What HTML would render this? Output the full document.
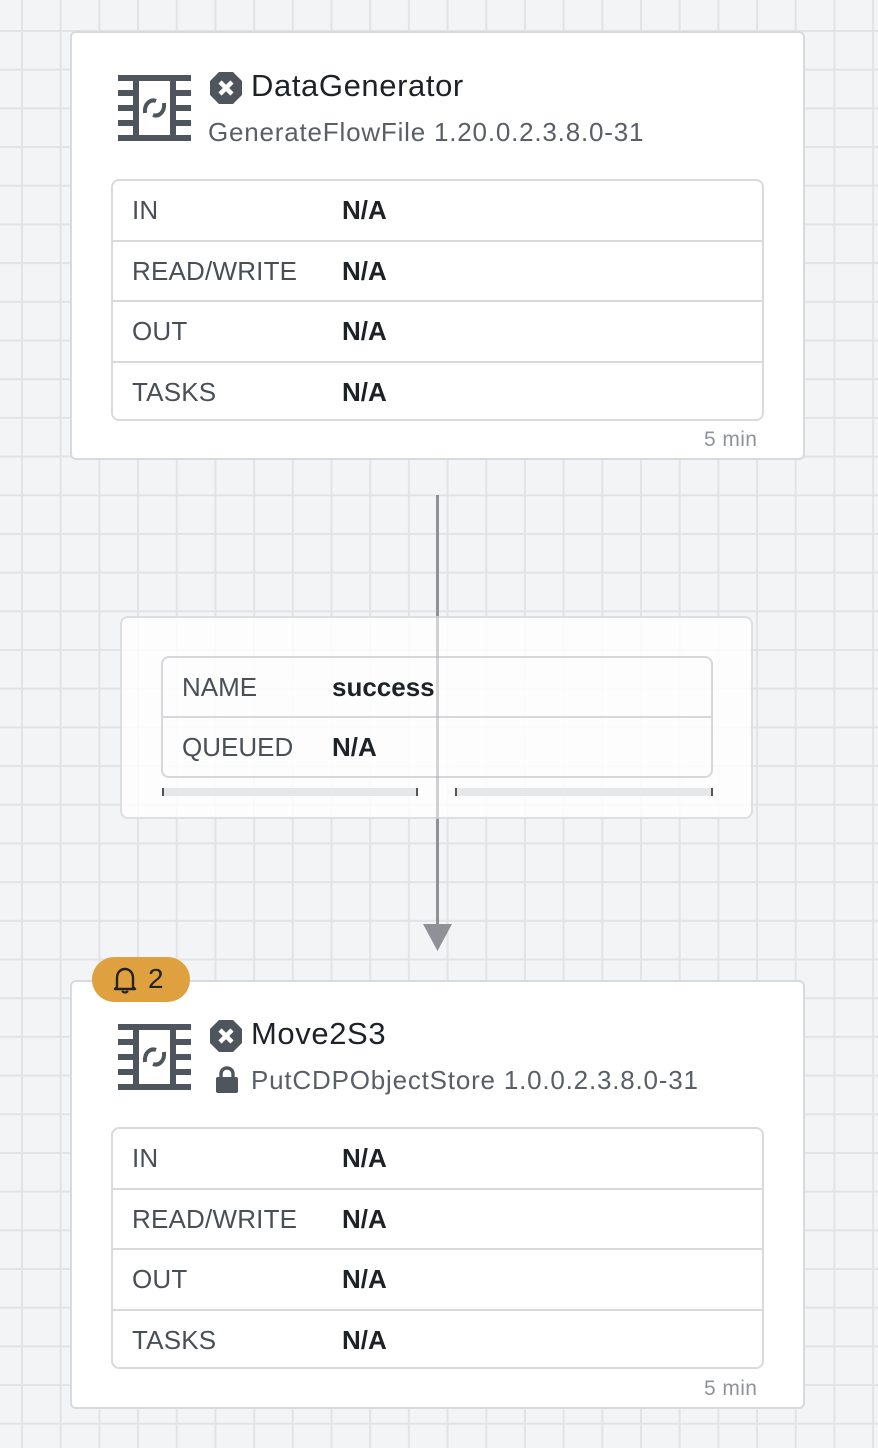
<!DOCTYPE html>
<html><head><meta charset="utf-8"><style>
*{margin:0;padding:0;box-sizing:border-box}
body{width:878px;height:1448px;position:relative;overflow:hidden;font-family:"Liberation Sans",Arial,sans-serif;
background-color:#f3f4f6;
background-image:linear-gradient(to right,#e2e3e5 2px,transparent 2px),linear-gradient(to bottom,#e2e3e5 2px,transparent 2px);
background-size:38.7px 38.7px;background-position:21px 30px}
.card{position:absolute;background:#fff;border:2px solid #d8dadd;border-radius:6px}
.tbl{position:absolute;border:2px solid #d8dadd;border-radius:8px;background:#fff}
.row{height:60.5px;border-bottom:2px solid #d8dadd;position:relative}
.row:last-child{border-bottom:none}
.row .l{position:absolute;left:19px;top:14px;font-size:26px;color:#4a4f56;letter-spacing:0.2px}
.row .v{position:absolute;left:229px;top:14px;font-size:26px;color:#1e2226;font-weight:bold}
.title{position:absolute;font-size:31px;color:#1e2226;letter-spacing:0.6px}
.sub{position:absolute;font-size:26px;color:#5a5f66;letter-spacing:0.8px}
.min{position:absolute;font-size:21px;color:#8f9399;letter-spacing:0.4px}
.icon{position:absolute}
</style></head><body>

<div class="card" style="left:70px;top:31px;width:735px;height:429px"></div>
<svg class="icon" style="left:118px;top:75px" width="73" height="66" viewBox="0 0 73 66">
<g fill="#4f555c"><rect x="0" y="0" width="73" height="6"/><rect x="0" y="60" width="73" height="6"/>
<rect x="0" y="15" width="73" height="6"/><rect x="0" y="30" width="73" height="6"/><rect x="0" y="45" width="73" height="6"/>
<rect x="15" y="0" width="6" height="66"/><rect x="52" y="0" width="6" height="66"/></g>
<rect x="21" y="6" width="31" height="54" fill="#fff"/>
<path d="M27 38 C26 28,33 24,38 26 M46 28 C47 38,40 42,35 40" stroke="#4f555c" stroke-width="4" fill="none"/>
</svg>
<svg class="icon" style="left:209px;top:71px" width="34" height="34" viewBox="0 0 34 34"><polygon points="10,1 24,1 33,10 33,24 24,33 10,33 1,24 1,10" fill="#4f555c"/><path d="M11 11 L23 23 M23 11 L11 23" stroke="#fff" stroke-width="4.5"/></svg>
<div class="title" style="left:251px;top:68px">DataGenerator</div>
<div class="sub" style="left:208px;top:117px">GenerateFlowFile 1.20.0.2.3.8.0-31</div>
<div class="tbl" style="left:111px;top:179px;width:653px;height:242px">
<div class="row"><span class="l">IN</span><span class="v">N/A</span></div>
<div class="row"><span class="l">READ/WRITE</span><span class="v">N/A</span></div>
<div class="row"><span class="l">OUT</span><span class="v">N/A</span></div>
<div class="row"><span class="l">TASKS</span><span class="v">N/A</span></div>
</div>
<div class="min" style="left:704px;top:428px">5 min</div>

<!-- connection -->
<div style="position:absolute;left:436px;top:495px;width:3px;height:435px;background:#8e9196"></div>
<svg class="icon" style="left:423px;top:924px" width="29" height="28"><polygon points="0,0 29,0 14.5,27" fill="#8e9196"/></svg>
<div style="position:absolute;left:120px;top:616px;width:633px;height:203px;background:rgba(255,255,255,0.82);border:2px solid #dcdee1;border-radius:8px"></div>
<div style="position:absolute;left:161px;top:656px;width:552px;height:122px;border:2px solid #d5d7da;border-radius:8px;background:rgba(255,255,255,0.3)">
<div style="height:60px;border-bottom:2px solid #d5d7da;position:relative"><span style="position:absolute;left:19px;top:14px;font-size:26px;color:#4a4f56">NAME</span><span style="position:absolute;left:169px;top:14px;font-size:26px;font-weight:bold;color:#1e2226">success</span></div>
<div style="position:relative"><span style="position:absolute;left:19px;top:14px;font-size:26px;color:#4a4f56">QUEUED</span><span style="position:absolute;left:169px;top:14px;font-size:26px;font-weight:bold;color:#1e2226">N/A</span></div>
</div>
<div style="position:absolute;left:436px;top:616px;width:3px;height:203px;background:rgba(142,145,150,0.3)"></div>
<div style="position:absolute;left:162px;top:788px;width:256px;height:8px;background:#e6e7e8;border-left:2px solid #555;border-right:2px solid #555"></div>
<div style="position:absolute;left:455px;top:788px;width:258px;height:8px;background:#e6e7e8;border-left:2px solid #555;border-right:2px solid #555"></div>

<!-- card 2 -->
<div class="card" style="left:70px;top:980px;width:735px;height:429px"></div>
<div style="position:absolute;left:92px;top:957px;width:98px;height:45px;background:#dfa03f;border-radius:23px"></div>
<svg class="icon" style="left:113px;top:966px" width="24" height="28" viewBox="0 0 24 28"><path d="M4 21 L4 12 C4 6,8 3,12 3 C16 3,20 6,20 12 L20 21 L22 23 L2 23 Z" fill="none" stroke="#222" stroke-width="2.4" stroke-linejoin="round"/><path d="M9 25 Q12 28 15 25" stroke="#222" stroke-width="2.2" fill="none"/></svg>
<div style="position:absolute;left:148px;top:963px;font-size:28px;color:#222">2</div>
<svg class="icon" style="left:118px;top:1024px" width="73" height="66" viewBox="0 0 73 66">
<g fill="#4f555c"><rect x="0" y="0" width="73" height="6"/><rect x="0" y="60" width="73" height="6"/>
<rect x="0" y="15" width="73" height="6"/><rect x="0" y="30" width="73" height="6"/><rect x="0" y="45" width="73" height="6"/>
<rect x="15" y="0" width="6" height="66"/><rect x="52" y="0" width="6" height="66"/></g>
<rect x="21" y="6" width="31" height="54" fill="#fff"/>
<path d="M27 38 C26 28,33 24,38 26 M46 28 C47 38,40 42,35 40" stroke="#4f555c" stroke-width="4" fill="none"/>
</svg>
<svg class="icon" style="left:209px;top:1019px" width="34" height="34" viewBox="0 0 34 34"><polygon points="10,1 24,1 33,10 33,24 24,33 10,33 1,24 1,10" fill="#4f555c"/><path d="M11 11 L23 23 M23 11 L11 23" stroke="#fff" stroke-width="4.5"/></svg>
<div class="title" style="left:251px;top:1016px">Move2S3</div>
<svg class="icon" style="left:215px;top:1066px" width="24" height="27" viewBox="0 0 24 27"><path d="M6 12 L6 8 C6 4,9 2,12 2 C15 2,18 4,18 8 L18 12" stroke="#4f555c" stroke-width="3.4" fill="none"/><rect x="1" y="11" width="22" height="16" rx="2" fill="#4f555c"/></svg>
<div class="sub" style="left:251px;top:1065px">PutCDPObjectStore 1.0.0.2.3.8.0-31</div>
<div class="tbl" style="left:111px;top:1127px;width:653px;height:242px">
<div class="row"><span class="l">IN</span><span class="v">N/A</span></div>
<div class="row"><span class="l">READ/WRITE</span><span class="v">N/A</span></div>
<div class="row"><span class="l">OUT</span><span class="v">N/A</span></div>
<div class="row"><span class="l">TASKS</span><span class="v">N/A</span></div>
</div>
<div class="min" style="left:704px;top:1377px">5 min</div>
</body></html>
